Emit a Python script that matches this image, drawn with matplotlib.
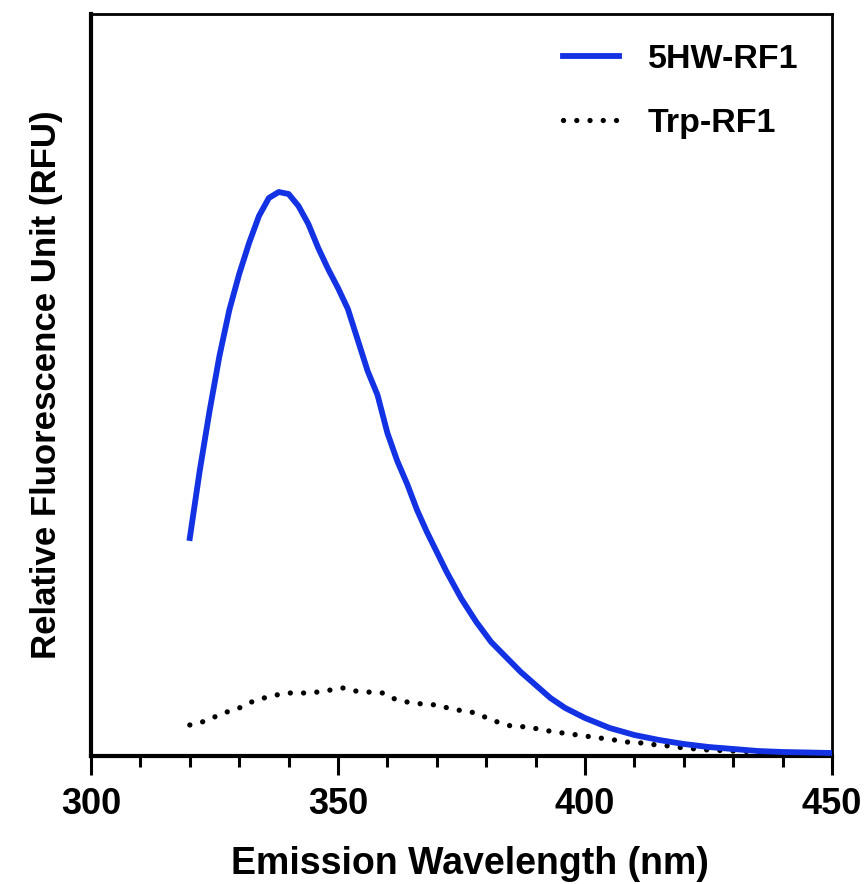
import matplotlib
matplotlib.use("Agg")
import matplotlib.pyplot as plt

plt.rcParams['font.family'] = ['Liberation Sans', 'DejaVu Sans']
plt.rcParams['font.weight'] = 'bold'

# emission spectra (arbitrary RFU)
hw_x = [320, 322, 324, 326, 328, 330, 332, 334, 336, 338, 340, 342, 344, 346, 348,
        350, 352, 354, 356, 358, 360, 362, 364, 366, 368, 370, 372, 375, 378, 381,
        384, 387, 390, 393, 396, 400, 405, 410, 415, 420, 425, 430, 435, 440, 450]
hw_y = [218, 285, 345, 400, 446, 482, 513, 540, 558, 564, 562, 550, 532, 508, 487,
        468, 447, 416, 385, 361, 323, 295, 272, 246, 224, 204, 184, 157, 134, 114,
        99, 84, 71, 58, 48, 38, 28, 21, 16, 12, 9, 7, 5, 4, 3]

trp_x = [320, 322.5, 325, 327.5, 330, 332.5, 335, 337.5, 340, 343, 346, 348.5, 351,
         353.5, 356, 359, 361.5, 364, 367, 370, 373, 378, 381, 385, 388.5, 391.5,
         394, 397, 400, 403, 406, 408.5, 411.5, 414.5, 417, 420, 425, 430, 440, 450]
trp_y = [31, 34, 39, 44, 48, 54, 58, 61, 63, 63, 64, 66, 68, 65, 64, 63, 57, 54, 52,
         51, 47, 43, 36, 30, 29, 26, 24, 22, 20, 18, 16, 14, 13, 11, 10, 8, 6, 5, 3, 2]

fig = plt.figure(figsize=(8.68, 8.84), dpi=100)
ax = fig.add_axes([91/868, 128/884, 741/868, 742/884])

ax.plot(hw_x, hw_y, color='#1232E4', lw=4.2, label='5HW-RF1', zorder=3)
trp, = ax.plot(trp_x, trp_y, color='black', lw=3.8, label='Trp-RF1', zorder=2)
trp.set_dashes([0.01, 2.5])
trp.set_dash_capstyle('round')

ax.set_xlim(300, 450)
ax.set_ylim(0, 742)
ax.set_xticks([300, 350, 400, 450])
ax.set_xticks(range(310, 450, 10), minor=True)
ax.set_yticks([])
ax.tick_params(axis='x', which='major', length=14, width=2.2, labelsize=26, pad=8)
ax.tick_params(axis='x', which='minor', length=8, width=2.2)
for s in ['left', 'bottom']:
    ax.spines[s].set_linewidth(3)
for s in ['top', 'right']:
    ax.spines[s].set_linewidth(2)

ax.set_xlabel('Emission Wavelength (nm)', fontsize=27, fontweight='bold')
ax.xaxis.set_label_coords(0.512, -0.121)
ax.set_ylabel('Relative Fluorescence Unit (RFU)', fontsize=25, fontweight='bold', labelpad=20)

leg = ax.legend(loc='upper left', bbox_to_anchor=(0.637, 0.96), frameon=False,
                fontsize=24.5, handlelength=1.65, handletextpad=0.85, labelspacing=0.97,
                borderaxespad=0, borderpad=0)

fig.savefig('out.png', dpi=100)
